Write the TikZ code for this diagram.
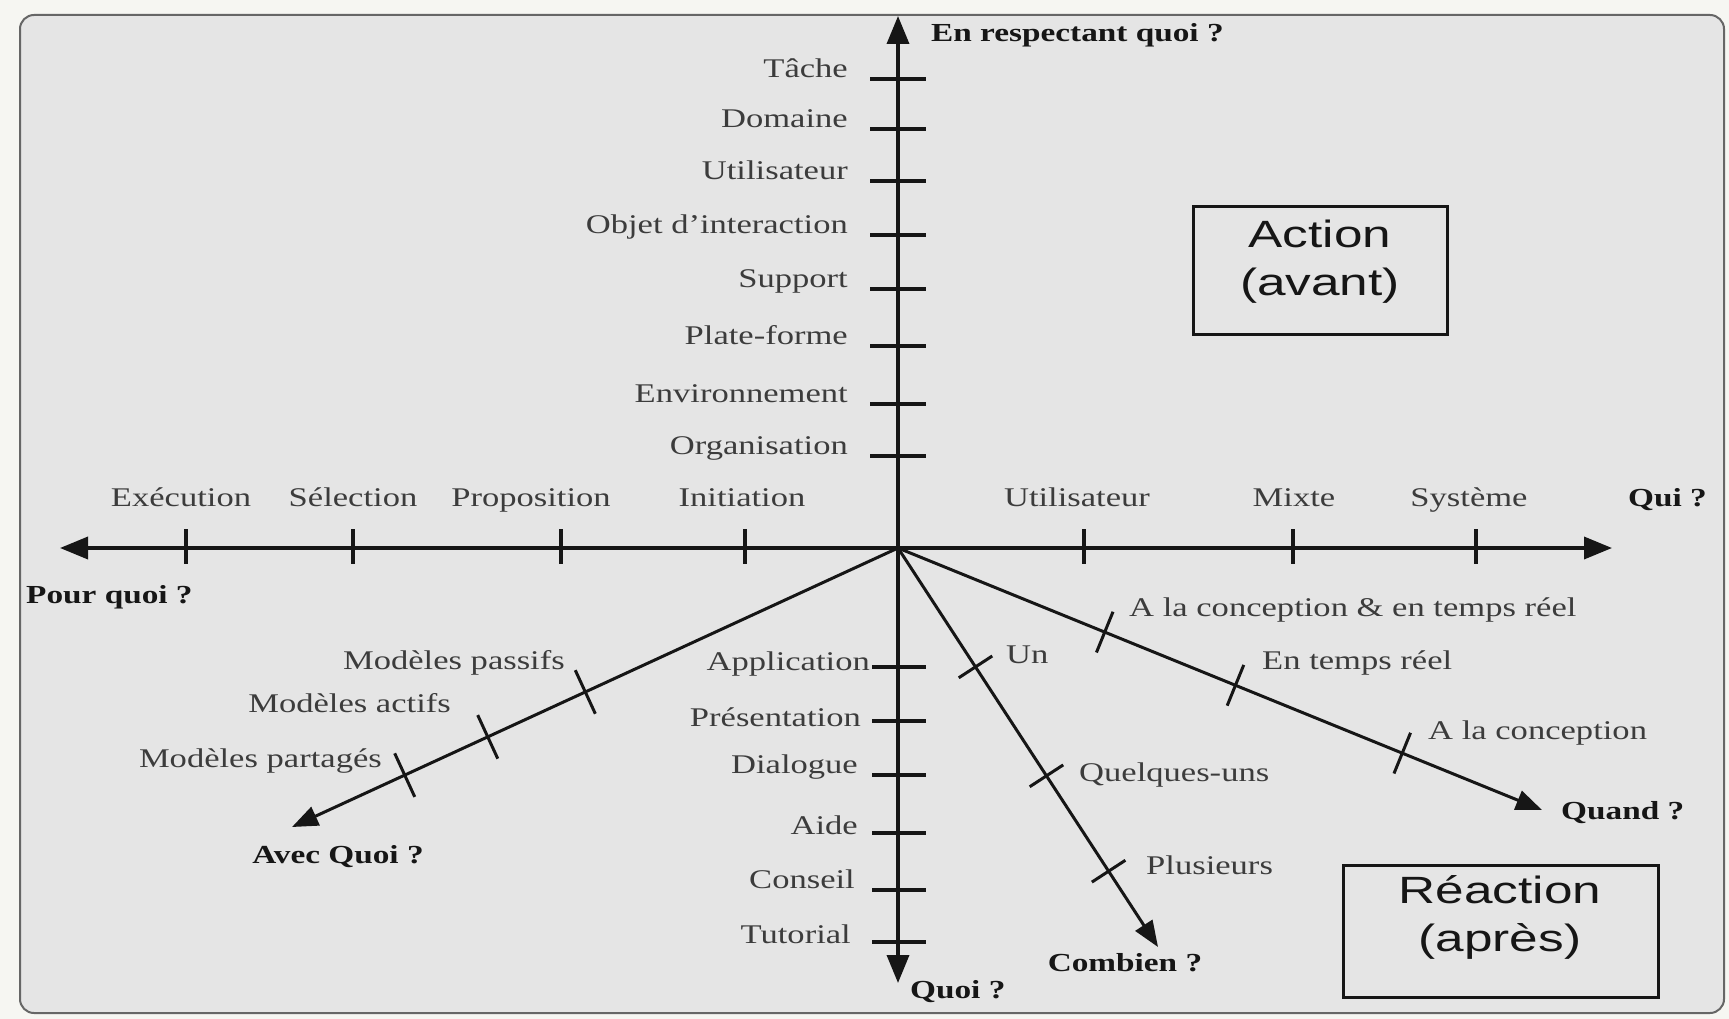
\documentclass[tikz,border=0pt]{standalone}
\usepackage{fontspec}
\setmainfont{Liberation Serif}[FakeStretch=1.28]
\newfontfamily\boxfont{Liberation Sans}[FakeStretch=1.35]
\usepackage{tikz}
\usetikzlibrary{arrows.meta}
\usetikzlibrary{calc}

\definecolor{paper}{HTML}{F6F6F2}
\definecolor{panel}{HTML}{E5E5E5}
\definecolor{ink}{HTML}{161616}
\definecolor{lbl}{HTML}{3C3C3C}

\tikzset{
    axis/.style={draw=ink, line width=3.6pt, -{Triangle[length=28pt, width=22pt]}},
    diag/.style={draw=ink, line width=3pt, -{Triangle[length=26pt, width=20pt]}},
    tick/.style={draw=ink, line width=3.4pt},
    lab/.style={text=lbl, inner sep=0pt, text height=19pt, text depth=6pt,
        font=\fontsize{27}{32}\selectfont},
    quest/.style={text=ink, inner sep=0pt, text height=18pt, text depth=6pt,
        font=\fontsize{26}{30}\selectfont\bfseries},
    boxtext/.style={text=ink, align=center, inner sep=0pt,
        font=\boxfont\fontsize{38}{48}\selectfont},
    boxframe/.style={draw=ink, line width=3pt},
}

\begin{document}
\begin{tikzpicture}[x=1pt, y=-1pt]
    \fill[paper] (0, 0) rectangle (1729, 1019);
    \draw[draw=black!60, line width=2pt, fill=panel, rounded corners=14pt] (20, 15) rectangle (1724, 1013);

    \coordinate (O) at (898, 548);
    \coordinate (top) at (898, 16);
    \coordinate (bottom) at (898, 983);
    \coordinate (right) at (1612, 548);
    \coordinate (left) at (60, 548);
    \coordinate (withwhat) at (292, 827);
    \coordinate (howmany) at (1158, 947);
    \coordinate (when) at (1542, 810);

    % main axes
    \draw[axis] (O) -- (top);
    \draw[axis] (O) -- (bottom);
    \draw[axis] (O) -- (right);
    \draw[axis] (O) -- (left);
    \draw[diag] (O) -- (withwhat);
    \draw[diag] (O) -- (howmany);
    \draw[diag] (O) -- (when);

    \node[quest, anchor=west] (respect) at (931, 36) {En respectant quoi ?};
    \node[quest, anchor=west] (qui) at (1628, 500) {Qui ?};
    \node[quest, anchor=west] (pourquoi) at (26, 597) {Pour quoi ?};
    \node[quest, anchor=west] (quoi) at (910, 992) {Quoi ?};
    \node[quest] (avecquoi) at (338, 857) {Avec Quoi ?};
    \node[quest] (combien) at (1125, 965) {Combien ?};
    \node[quest, anchor=west] (quand) at (1561, 813) {Quand ?};

    % upper axis
    \foreach \y/\t [count=\i] in {79/Tâche, 129/Domaine, 181/Utilisateur, 235/Objet d’interaction,
            289/Support, 346/Plate-forme, 404/Environnement, 456/Organisation} {
        \draw[tick] (870, \y) -- (926, \y);
        \node[lab, anchor=east] (up\i) at (848, \y - 8) {\t};
    }

    % lower axis
    \foreach \y in {667, 721, 775, 833, 890, 942} {
        \draw[tick] (872, \y) -- (926, \y);
    }
    \node[lab, anchor=east] (dn1) at (870, 664) {Application};
    \node[lab, anchor=east] (dn2) at (861, 720) {Présentation};
    \node[lab, anchor=east] (dn3) at (858, 767) {Dialogue};
    \node[lab, anchor=east] (dn4) at (858, 828) {Aide};
    \node[lab, anchor=east] (dn5) at (855, 882) {Conseil};
    \node[lab, anchor=east] (dn6) at (851, 937) {Tutorial};

    % left axis
    \foreach \x in {186, 353, 561, 745} {
        \draw[tick] (\x, 529) -- (\x, 564);
    }
    \node[lab] (lf1) at (181, 500) {Exécution};
    \node[lab] (lf2) at (353, 500) {Sélection};
    \node[lab] (lf3) at (531, 500) {Proposition};
    \node[lab] (lf4) at (742, 500) {Initiation};

    % right axis
    \foreach \x in {1084, 1293, 1476} {
        \draw[tick] (\x, 529) -- (\x, 564);
    }
    \node[lab] (rt1) at (1077, 500) {Utilisateur};
    \node[lab] (rt2) at (1294, 500) {Mixte};
    \node[lab] (rt3) at (1469, 500) {Système};

    % diagonal ticks
    \foreach \p/\n in {0.516/w1, 0.677/w2, 0.814/w3} {
        \path (O) -- (withwhat) coordinate[pos=\p] (\n);
        \draw[tick, line width=3pt] ($(\n)!24pt!90:(withwhat)$) -- ($(\n)!24pt!-90:(withwhat)$);
    }
    \foreach \p/\n in {0.298/c1, 0.571/c2, 0.81/c3} {
        \path (O) -- (howmany) coordinate[pos=\p] (\n);
        \draw[tick, line width=3pt] ($(\n)!20pt!90:(howmany)$) -- ($(\n)!20pt!-90:(howmany)$);
    }
    \foreach \p/\n in {0.321/q1, 0.524/q2, 0.783/q3} {
        \path (O) -- (when) coordinate[pos=\p] (\n);
        \draw[tick, line width=3pt] ($(\n)!22pt!90:(when)$) -- ($(\n)!22pt!-90:(when)$);
    }

    \node[lab, anchor=east] (mp) at (565, 663) {Modèles passifs};
    \node[lab, anchor=east] (ma) at (451, 706) {Modèles actifs};
    \node[lab, anchor=east] (ms) at (382, 761) {Modèles partagés};

    \node[lab, anchor=west] (un) at (1006, 657) {Un};
    \node[lab, anchor=west] (qu) at (1079, 775) {Quelques-uns};
    \node[lab, anchor=west] (pl) at (1146, 868) {Plusieurs};

    \node[lab, anchor=west] (cr) at (1129, 610) {A la conception \& en temps réel};
    \node[lab, anchor=west] (tr) at (1262, 663) {En temps réel};
    \node[lab, anchor=west] (co) at (1428, 733) {A la conception};

    % boxes
    \draw[boxframe] (1193, 207) rectangle (1447, 334);
    \node[boxtext] (action) at (1320, 262) {Action\\(avant)};
    \draw[boxframe] (1343, 865) rectangle (1658, 997);
    \node[boxtext] (reaction) at (1500, 917) {Réaction\\(après)};
\end{tikzpicture}
\end{document}
